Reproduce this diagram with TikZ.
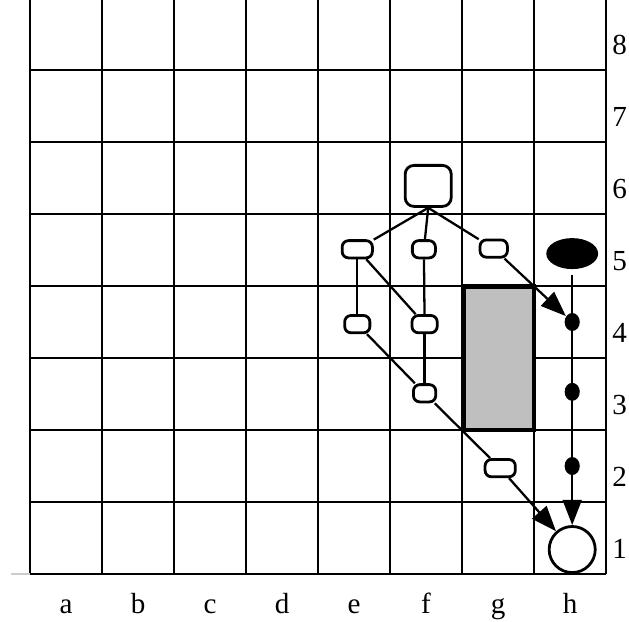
\documentclass[tikz,border=0pt]{standalone}
\usepackage{fontspec}
\setmainfont{Liberation Serif}
\usepackage{xcolor}
\usepackage{tikz}
\usetikzlibrary{shapes,arrows.meta,positioning,calc}

\begin{document}
\begin{tikzpicture}[
    x=1cm, y=1cm,
    gridline/.style={line width=1pt},
    lbl/.style={font=\fontsize{11.5}{13}\selectfont, inner sep=0pt, anchor=base},
    chip/.style={draw, line width=1.1pt, rounded corners=2.5pt, fill=white, minimum width=0.36cm, minimum height=0.24cm, inner sep=0pt},
    bigbox/.style={draw, line width=1.1pt, rounded corners=3.5pt, fill=white, minimum width=0.64cm, minimum height=0.57cm, inner sep=0pt},
    blob/.style={ellipse, fill=black, inner sep=0pt},
    link/.style={line width=0.9pt},
    arrow/.style={-{Triangle[length=10pt,width=7.5pt]}, line width=0.9pt}
]
\useasboundingbox (-0.417,-0.653) rectangle (8.319,7.972);

% board
\draw[gridline] (0,0) grid (8,8);
\draw[gray!40, line width=0.6pt] (-0.27,0) -- (0,0);

% shaded block in column g
\draw[line width=1.8pt, fill=black!25] (6.03,2.0) rectangle (7.0,3.99);

% column letters
\node[lbl] (ca) at (0.5,-0.55) {a};
\node[lbl] (cb) at (1.5,-0.55) {b};
\node[lbl] (cc) at (2.5,-0.55) {c};
\node[lbl] (cd) at (3.5,-0.55) {d};
\node[lbl] (ce) at (4.5,-0.55) {e};
\node[lbl] (cf) at (5.5,-0.55) {f};
\node[lbl] (cg) at (6.5,-0.55) {g};
\node[lbl] (ch) at (7.5,-0.55) {h};

% row numbers
\node[lbl] (r1) at (8.19,0.22) {1};
\node[lbl] (r2) at (8.19,1.22) {2};
\node[lbl] (r3) at (8.19,2.22) {3};
\node[lbl] (r4) at (8.19,3.22) {4};
\node[lbl] (r5) at (8.19,4.22) {5};
\node[lbl] (r6) at (8.19,5.22) {6};
\node[lbl] (r7) at (8.19,6.22) {7};
\node[lbl] (r8) at (8.19,7.22) {8};

% tree of boxes
\node[bigbox] (top) at (5.53,5.39) {};
\node[chip, minimum width=0.42cm] (e5) at (4.545,4.51) {};
\node[chip, minimum width=0.32cm] (f5) at (5.47,4.51) {};
\node[chip, minimum width=0.38cm] (g5) at (6.44,4.52) {};
\node[chip, minimum width=0.35cm] (e4) at (4.545,3.47) {};
\node[chip, minimum width=0.35cm] (f4) at (5.48,3.47) {};
\node[chip, minimum width=0.31cm] (f3) at (5.48,2.51) {};
\node[chip, minimum width=0.42cm] (g2) at (6.53,1.47) {};

% column h
\node[blob, minimum width=0.72cm, minimum height=0.43cm] (ell) at (7.53,4.45) {};
\node[draw, circle, line width=1.1pt, fill=white, minimum size=0.64cm, inner sep=0pt] (goal) at (7.53,0.34) {};

\draw[link] (top.south) -- (e5);
\draw[link] (top.south) -- (f5);
\draw[link] (top.south) -- (g5);
\draw[link] (e5) -- (e4);
\draw[link] (e5) -- (f4);
\draw[link] (f5) -- (f4);
\draw[link] (f4) -- (f3);
\draw[link] (e4) -- (f3);
\draw[link] (f3) -- (g2);
\draw[arrow] (g2) -- (goal);

\draw[arrow, shorten <=2pt] (ell) -- (goal);
\node[blob, minimum width=0.21cm, minimum height=0.25cm] (h4) at (7.53,3.5) {};
\node[blob, minimum width=0.21cm, minimum height=0.25cm] (h3) at (7.53,2.53) {};
\node[blob, minimum width=0.21cm, minimum height=0.25cm] (h2) at (7.53,1.5) {};
\draw[arrow] (g5) -- (h4);

\end{tikzpicture}
\end{document}
